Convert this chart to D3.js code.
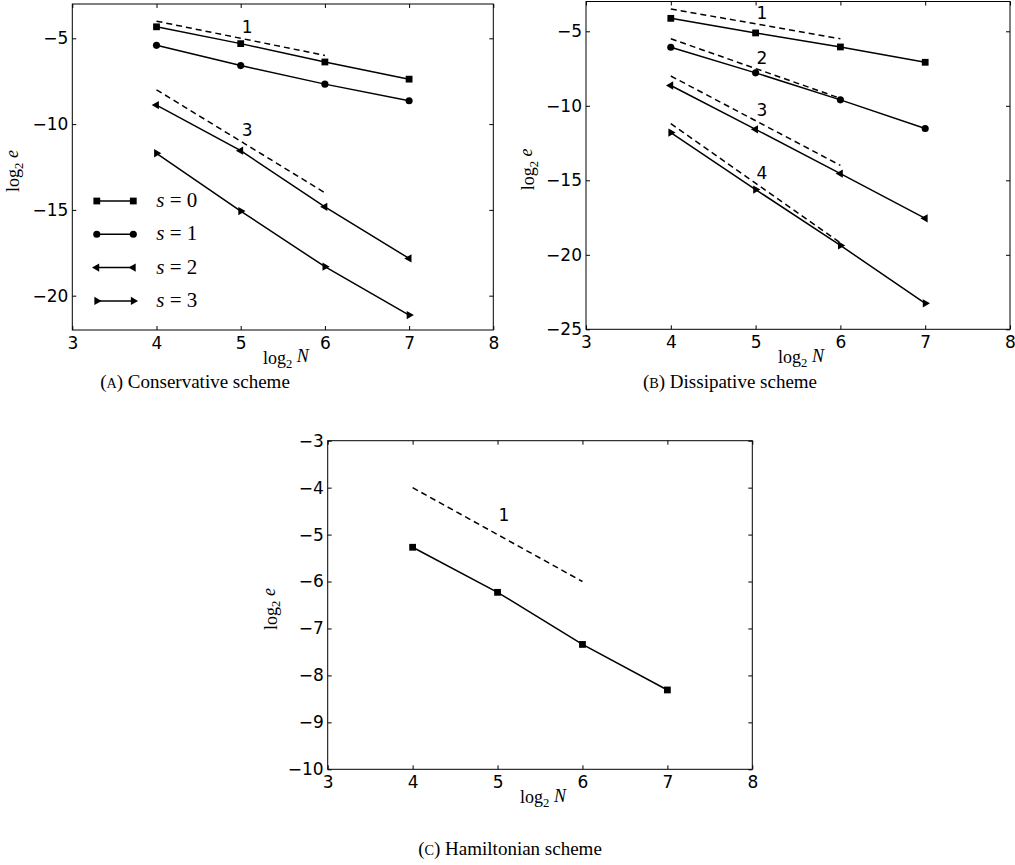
<!DOCTYPE html>
<html>
<head>
<meta charset="utf-8">
<script src="https://cdn.jsdelivr.net/npm/d3@7"></script>
<style>
  body { margin: 0; background: #fff; }
  svg { display: block; }
</style>
</head>
<body>
<script>
// x values: log2 N
let xN        = [4, 5, 6, 7];
let xTicks    = [3, 4, 5, 6, 7, 8];
let seriesLbl = ["0", "1", "2", "3"];   // s = ...

// (A) conservative scheme, log2 e
let consS0 = [-4.33, -5.31, -6.38, -7.38];
let consS1 = [-5.41, -6.59, -7.67, -8.64];
let consS2 = [-8.89, -11.55, -14.82, -17.83];
let consS3 = [-11.70, -15.07, -18.31, -21.13];

// (B) dissipative scheme
let dissS0 = [-4.13, -5.11, -6.05, -7.08];
let dissS1 = [-6.07, -7.79, -9.60, -11.52];
let dissS2 = [-8.64, -11.58, -14.55, -17.55];
let dissS3 = [-11.80, -15.62, -19.37, -23.26];

// (C) hamiltonian scheme
let hamS0 = [-5.27, -6.23, -7.34, -8.31];

// reference slope lines (dashed), from x=4 to x=6
let refX      = [4, 6];
let consRef   = [[-4, -6], [-8, -14]];
let consRate  = ["1", "3"];
let dissRef   = [[-3.5, -5.5], [-5.5, -9.5], [-8, -14], [-11.2, -19.2]];
let dissRate  = ["1", "2", "3", "4"];
let hamRef    = [[-4, -6]];
let hamRate   = ["1"];

let yTicksA = [-20, -15, -10, -5];
let yTicksB = [-25, -20, -15, -10, -5];
let yTicksC = [-10, -9, -8, -7, -6, -5, -4, -3];

let tickFont  = "'DejaVu Sans', sans-serif";
let serifFont = "'Liberation Serif', 'DejaVu Serif', serif";
let intFmt    = d3.format("d");

let svg = d3.select("body").append("svg")
            .attr("width", 1015)
            .attr("height", 865);

// marker for each s
let markerTypes = [
    { type: d3.symbolSquare,   size: 46, rot: 0   },
    { type: d3.symbolCircle,   size: 40, rot: 0   },
    { type: d3.symbolTriangle, size: 30, rot: -90 },   // pointing left
    { type: d3.symbolTriangle, size: 30, rot: 90  }    // pointing right
];

function drawMarker(g, m, px, py){
    g.append("path")
        .attr("d", d3.symbol().type(m.type).size(m.size)())
        .attr("transform", "translate(" + px + "," + py + ") rotate(" + m.rot + ")")
        .attr("fill", "#000");
}

function logLabel(sel, letter){
    sel.append("tspan").text("log");
    sel.append("tspan").text("2").attr("dy", "0.3em").attr("font-size", "0.7em");
    sel.append("tspan").text(" ").attr("dy", "-0.3em");
    sel.append("tspan").text(letter).attr("font-style", "italic");
}

function drawPanel(p){
    let x = d3.scaleLinear().domain([3, 8]).range([p.left, p.right]);
    let y = d3.scaleLinear().domain(p.yDom).range([p.bottom, p.top]);
    let g = svg.append("g");

    // axes with inward ticks on all four sides
    let axB = g.append("g").attr("transform", "translate(0," + p.bottom + ")")
        .call(d3.axisBottom(x).tickValues(xTicks).tickFormat(intFmt).tickSize(-4).tickPadding(7));
    let axT = g.append("g").attr("transform", "translate(0," + p.top + ")")
        .call(d3.axisTop(x).tickValues(xTicks).tickSize(-4).tickFormat(""));
    let axL = g.append("g").attr("transform", "translate(" + p.left + ",0)")
        .call(d3.axisLeft(y).tickValues(p.yTicks).tickFormat(intFmt).tickSize(-4).tickPadding(4));
    let axR = g.append("g").attr("transform", "translate(" + p.right + ",0)")
        .call(d3.axisRight(y).tickValues(p.yTicks).tickSize(-4).tickFormat(""));

    [axB, axT, axL, axR].forEach(a => {
        a.select(".domain").remove();
        a.selectAll("line").attr("stroke", "#000").attr("stroke-width", 1);
        a.selectAll("text").attr("font-family", tickFont).attr("font-size", 17).attr("fill", "#000");
    });

    g.append("rect")
        .attr("x", p.left).attr("y", p.top)
        .attr("width", p.right - p.left).attr("height", p.bottom - p.top)
        .attr("fill", "none").attr("stroke", "#000").attr("stroke-width", 1);

    let line = d3.line().x(d => x(d[0])).y(d => y(d[1]));

    // dashed reference slopes + rate labels
    p.refs.forEach((r, i) => {
        g.append("path")
            .attr("d", line(refX.map((v, k) => [v, r[k]])))
            .attr("fill", "none").attr("stroke", "#000")
            .attr("stroke-width", 1.5).attr("stroke-dasharray", "6,4");
        let mx = (refX[0] + refX[1]) / 2;
        let my = (r[0] + r[1]) / 2 + 0.3;
        g.append("text")
            .attr("x", x(mx) + 1).attr("y", y(my))
            .attr("font-family", tickFont).attr("font-size", 17)
            .text(p.rates[i]);
    });

    // error curves
    p.series.forEach((s, i) => {
        let pts = xN.map((v, k) => [v, s[k]]);
        g.append("path")
            .attr("d", line(pts))
            .attr("fill", "none").attr("stroke", "#000").attr("stroke-width", 1.5);
        pts.forEach(d => drawMarker(g, markerTypes[i], x(d[0]), y(d[1])));
    });

    // axis labels
    g.append("text")
        .attr("x", (p.left + p.right) / 2 + 3).attr("y", p.bottom + 34)
        .attr("text-anchor", "middle")
        .attr("font-family", serifFont).attr("font-size", 18)
        .call(logLabel, "N");

    g.append("text")
        .attr("transform", "translate(" + (p.left - p.ylabOff) + "," + ((p.top + p.bottom) / 2 + 4) + ") rotate(-90)")
        .attr("text-anchor", "middle")
        .attr("font-family", serifFont).attr("font-size", 18)
        .call(logLabel, "e");

    // legend
    if(p.legend){
        p.series.forEach((s, i) => {
            let ly = p.top + 197 + i * 33.3;
            let x0 = p.left + 24.5, x1 = p.left + 61;
            g.append("line")
                .attr("x1", x0).attr("x2", x1).attr("y1", ly).attr("y2", ly)
                .attr("stroke", "#000").attr("stroke-width", 1.5);
            drawMarker(g, markerTypes[i], x0, ly);
            drawMarker(g, markerTypes[i], x1, ly);
            let t = g.append("text")
                .attr("x", p.left + 84).attr("y", ly + 6)
                .attr("font-family", serifFont).attr("font-size", 21);
            t.append("tspan").text("s").attr("font-style", "italic");
            t.append("tspan").text(" = " + seriesLbl[i]);
        });
    }

    // caption
    let c = svg.append("text")
        .attr("x", p.capX).attr("y", p.capY)
        .attr("text-anchor", "middle")
        .attr("font-family", serifFont).attr("font-size", 19);
    c.append("tspan").text("(");
    c.append("tspan").text(p.capTag).attr("font-size", "0.75em");
    c.append("tspan").text(") " + p.caption);
}

drawPanel({
    left: 72.3, right: 493.3, top: 4, bottom: 330,
    yDom: [-22, -3], yTicks: yTicksA,
    series: [consS0, consS1, consS2, consS3],
    refs: consRef, rates: consRate, legend: true,
    ylabOff: 53, capX: 195, capY: 388, capTag: "A", caption: "Conservative scheme"
});

drawPanel({
    left: 586, right: 1010, top: 1.5, bottom: 329.3,
    yDom: [-25, -3], yTicks: yTicksB,
    series: [dissS0, dissS1, dissS2, dissS3],
    refs: dissRef, rates: dissRate, legend: false,
    ylabOff: 52, capX: 730, capY: 388, capTag: "B", caption: "Dissipative scheme"
});

drawPanel({
    left: 327.7, right: 752.3, top: 440.7, bottom: 769.3,
    yDom: [-10, -3], yTicks: yTicksC,
    series: [hamS0],
    refs: hamRef, rates: hamRate, legend: false,
    ylabOff: 51, capX: 510, capY: 855, capTag: "C", caption: "Hamiltonian scheme"
});
</script>
</body>
</html>
